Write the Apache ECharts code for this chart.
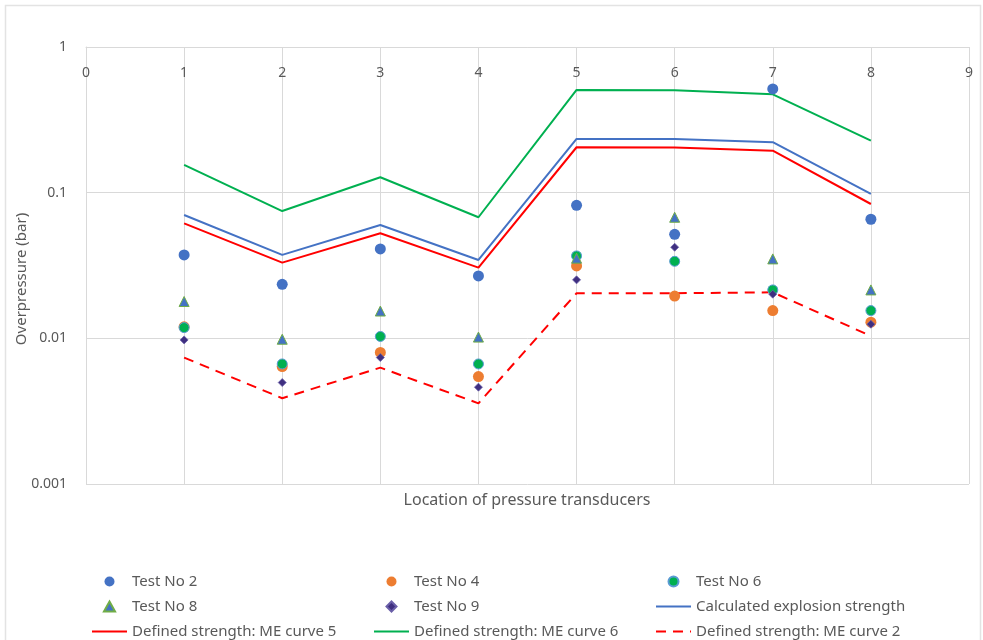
<!DOCTYPE html>
<html>
<head>
<meta charset="utf-8">
<script src="https://cdn.jsdelivr.net/npm/echarts@6/dist/echarts.min.js"></script>
<style>html,body{margin:0;padding:0;background:#fff;}#c{width:983px;height:640px;}</style>
</head>
<body>
<div id="c"></div>
<script>
const locations = [1, 2, 3, 4, 5, 6, 7, 8];
const xTickLabels = ['0','1','2','3','4','5','6','7','8','9'];
const yTickLabels = ['0.001','0.01','0.1','1'];

const test2 = [0.0374, 0.0235, 0.0411, 0.0268, 0.0819, 0.0518, 0.515, 0.0657];
const test4 = [0.0120, 0.0064, 0.0080, 0.00546, 0.0314, 0.0195, 0.0155, 0.0129];
const test6 = [0.01185, 0.00667, 0.0103, 0.00667, 0.0368, 0.0338, 0.0215, 0.0155];
const test8 = [0.0179, 0.00986, 0.0154, 0.0102, 0.0355, 0.0678, 0.0351, 0.0215];
const test9 = [0.00975, 0.00497, 0.00738, 0.00462, 0.0252, 0.0422, 0.0201, 0.0125];

const calculated = [0.0703, 0.0374, 0.0600, 0.0345, 0.234, 0.234, 0.222, 0.098];
const meCurve5 = [0.0616, 0.0331, 0.0526, 0.0306, 0.205, 0.204, 0.194, 0.0836];
const meCurve6 = [0.155, 0.0748, 0.1276, 0.0678, 0.507, 0.505, 0.473, 0.2275];
const meCurve2 = [0.00738, 0.00388, 0.00629, 0.00358, 0.0204, 0.0204, 0.0207, 0.01038];

const pts = arr => locations.map((x, i) => [x, arr[i]]);
const FONT = 'Noto Sans';
const TXT = '#595959';
const GRID = '#D9D9D9';

const chart = echarts.init(document.getElementById('c'));

function scatter(name, data, symbol, size, color, border, bw, z) {
  return {
    name, type: 'scatter', data: pts(data), symbol, symbolSize: size, z,
    itemStyle: { color, borderColor: border, borderWidth: bw, opacity: 1 }
  };
}
function line(name, data, color, type) {
  return {
    name, type: 'line', data: pts(data), symbol: 'none', z: 2,
    lineStyle: { color, width: 2, type: type || 'solid', dashOffset: 0 },
    itemStyle: { color },
    emphasis: { disabled: true }
  };
}
const lineItem = name => ({ name, itemStyle: { opacity: 0 } });
const TRI_ICON = 'path://M5,0L10,9L0,9Z';
const DIA_ICON = 'path://M4,0L8,4L4,8L0,4Z';

const legendBase = {
  orient: 'vertical', top: 574, padding: 0, itemWidth: 35, itemHeight: 10, itemGap: 10,
  height: 66, symbolKeepAspect: true,
  textStyle: { fontFamily: FONT, fontSize: 15, lineHeight: 15, color: TXT }
};

chart.setOption({
  animation: false,
  backgroundColor: '#fff',
  graphic: [
    { type: 'rect', shape: { x: 5.5, y: 5.5, width: 975, height: 700 },
      style: { fill: 'none', stroke: '#E3E3E3', lineWidth: 1.5 }, silent: true },
    { type: 'text', x: 527, y: 500,
      style: { text: 'Location of pressure transducers', fontFamily: FONT, fontSize: 16,
               fill: TXT, align: 'center', verticalAlign: 'middle' } },
    { type: 'text', x: 22, y: 279, rotation: Math.PI / 2,
      style: { text: 'Overpressure (bar)', fontFamily: FONT, fontSize: 15,
               fill: TXT, align: 'center', verticalAlign: 'middle' } }
  ],
  grid: { left: 86, right: 14, top: 47, bottom: 156, containLabel: false },
  xAxis: {
    type: 'value', min: 0, max: 9, interval: 1, position: 'top',
    axisLine: { show: true, onZero: false, lineStyle: { color: GRID, width: 1 } },
    axisTick: { show: false },
    axisLabel: { inside: true, margin: 19, fontFamily: FONT, fontSize: 14, color: TXT,
                 formatter: v => xTickLabels[Math.round(v)] },
    splitLine: { show: true, lineStyle: { color: GRID, width: 1 } }
  },
  yAxis: {
    type: 'log', logBase: 10, min: 0.001, max: 1,
    axisLine: { show: true, lineStyle: { color: GRID, width: 1 } },
    axisTick: { show: false },
    axisLabel: { margin: 19, fontFamily: FONT, fontSize: 14, color: TXT,
                 formatter: v => yTickLabels[Math.round(Math.log10(v)) + 3] },
    splitLine: { show: true, lineStyle: { color: GRID, width: 1 } }
  },
  legend: [
    Object.assign({}, legendBase, { left: 91,
      data: ['Test No 2', { name: 'Test No 8', icon: TRI_ICON }, lineItem('Defined strength: ME curve 5')] }),
    Object.assign({}, legendBase, { left: 373,
      data: ['Test No 4', { name: 'Test No 9', icon: DIA_ICON }, lineItem('Defined strength: ME curve 6')] }),
    Object.assign({}, legendBase, { left: 655,
      data: ['Test No 6', lineItem('Calculated explosion strength'), lineItem('Defined strength: ME curve 2')] })
  ],
  series: [
    line('Calculated explosion strength', calculated, '#4472C4'),
    line('Defined strength: ME curve 5', meCurve5, '#FF0000'),
    line('Defined strength: ME curve 6', meCurve6, '#00B050'),
    line('Defined strength: ME curve 2', meCurve2, '#FF0000', [10, 7]),
    scatter('Test No 2', test2, 'circle', 11, '#4472C4', '#4472C4', 0, 5),
    scatter('Test No 4', test4, 'circle', 11, '#ED7D31', '#ED7D31', 0, 6),
    scatter('Test No 6', test6, 'circle', 10, '#00B050', '#5B9BD5', 1, 7),
    scatter('Test No 8', test8, 'triangle', 10, '#4472C4', '#70AD47', 1, 8),
    scatter('Test No 9', test9, 'diamond', 8, '#3F2F80', '#6A5FA8', 0.8, 9)
  ]
});
</script>
</body>
</html>
